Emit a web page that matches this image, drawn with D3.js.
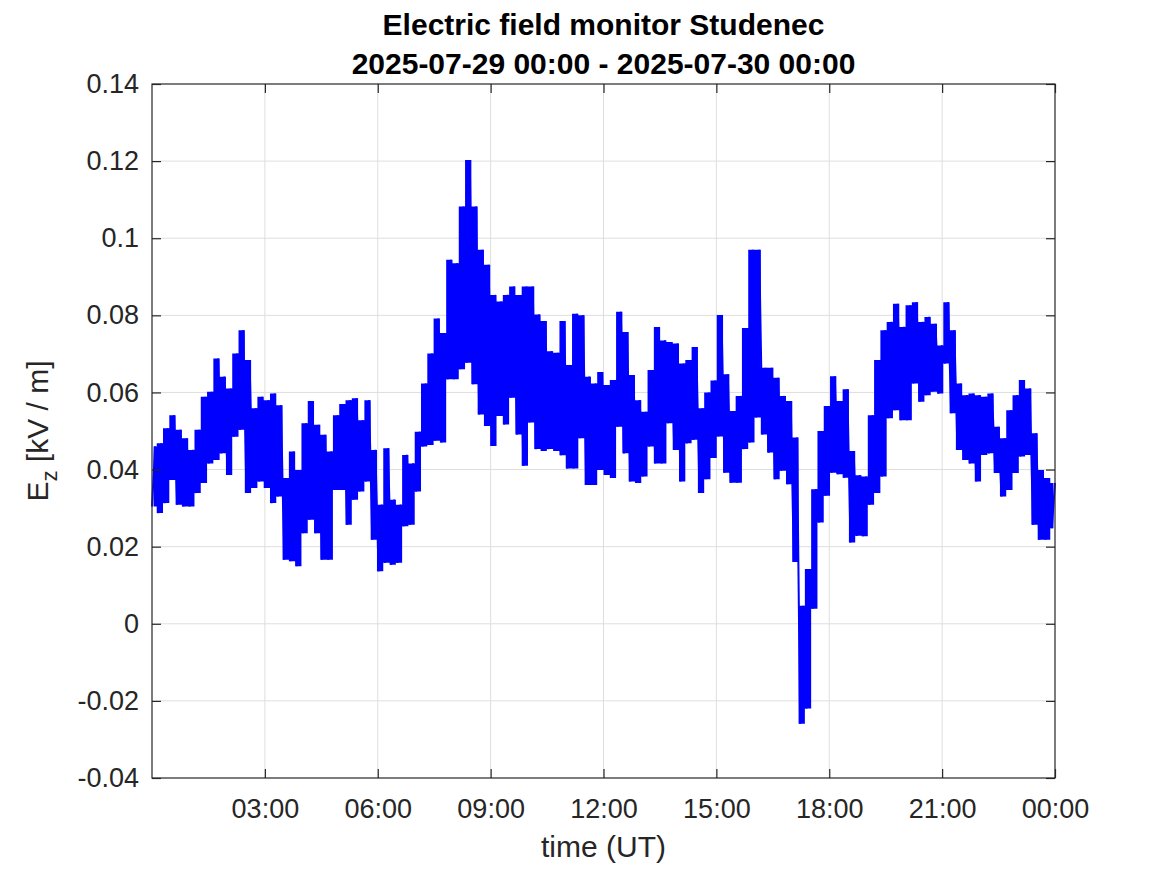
<!DOCTYPE html>
<html>
<head>
<meta charset="utf-8">
<script src="https://cdn.jsdelivr.net/npm/d3@7"></script>
<style>
  body { margin: 0; background: #fff; }
  svg { display: block; font-family: "Liberation Sans", Arial, Helvetica, sans-serif; }
</style>
</head>
<body>
<div id="grafico"></div>
<script>
// Titulo e rotulos
const tituloLinha1 = "Electric field monitor Studenec";
const tituloLinha2 = "2025-07-29 00:00 - 2025-07-30 00:00";
const rotuloX = "time (UT)";

// Intervalo de tempo (UT)
const inicio = new Date(Date.UTC(2025, 6, 29, 0, 0));
const fim = new Date(Date.UTC(2025, 6, 30, 0, 0));

// Eixo Y
const yTicks = [-0.04, -0.02, 0, 0.02, 0.04, 0.06, 0.08, 0.1, 0.12, 0.14];
const xTickHoras = [3, 6, 9, 12, 15, 18, 21, 24];

// Dados: envelope de Ez (kV/m) em blocos de 10 minutos (max e min)
const minutosPorBloco = 10;
const ezMax = [
  0.0460, 0.0468, 0.0507, 0.0541, 0.0503, 0.0481, 0.0451, 0.0503, 0.0589, 0.0602, 0.0688, 0.0641,
  0.0610, 0.0701, 0.0761, 0.0684, 0.0559, 0.0589, 0.0580, 0.0597, 0.0567, 0.0378, 0.0447, 0.0399,
  0.0520, 0.0578, 0.0516, 0.0490, 0.0447, 0.0541, 0.0570, 0.0580, 0.0585, 0.0528, 0.0580, 0.0451,
  0.0309, 0.0455, 0.0322, 0.0309, 0.0438, 0.0416, 0.0498, 0.0623, 0.0701, 0.0792, 0.0754, 0.0944,
  0.0935, 0.1082, 0.1203, 0.1082, 0.0970, 0.0931, 0.0853, 0.0836, 0.0853, 0.0875, 0.0853, 0.0875,
  0.0875, 0.0802, 0.0785, 0.0707, 0.0703, 0.0785, 0.0671, 0.0804, 0.0800, 0.0641, 0.0623, 0.0653,
  0.0619, 0.0632, 0.0809, 0.0757, 0.0645, 0.0580, 0.0550, 0.0658, 0.0770, 0.0735, 0.0731, 0.0727,
  0.0675, 0.0684, 0.0718, 0.0559, 0.0600, 0.0631, 0.0801, 0.0647, 0.0552, 0.0591, 0.0767, 0.0970,
  0.0970, 0.0664, 0.0664, 0.0638, 0.0591, 0.0578, 0.0483, 0.0047, 0.0142, 0.0349, 0.0500, 0.0565,
  0.0642, 0.0578, 0.0608, 0.0448, 0.0385, 0.0382, 0.0541, 0.0684, 0.0761, 0.0783, 0.0830, 0.0770,
  0.0826, 0.0834, 0.0783, 0.0796, 0.0778, 0.0722, 0.0834, 0.0761, 0.0623, 0.0593, 0.0597, 0.0593,
  0.0589, 0.0597, 0.0511, 0.0481, 0.0554, 0.0593, 0.0632, 0.0610, 0.0494, 0.0399, 0.0378, 0.0365
];
const ezMin = [
  0.0304, 0.0287, 0.0313, 0.0373, 0.0309, 0.0304, 0.0304, 0.0339, 0.0365, 0.0416, 0.0425, 0.0442,
  0.0386, 0.0485, 0.0503, 0.0339, 0.0352, 0.0369, 0.0352, 0.0313, 0.0330, 0.0166, 0.0162, 0.0149,
  0.0235, 0.0270, 0.0235, 0.0166, 0.0166, 0.0347, 0.0347, 0.0257, 0.0322, 0.0343, 0.0369, 0.0218,
  0.0136, 0.0158, 0.0153, 0.0158, 0.0253, 0.0257, 0.0343, 0.0460, 0.0464, 0.0475, 0.0470, 0.0634,
  0.0634, 0.0660, 0.0677, 0.0621, 0.0543, 0.0513, 0.0461, 0.0539, 0.0517, 0.0586, 0.0491, 0.0410,
  0.0522, 0.0453, 0.0448, 0.0453, 0.0448, 0.0437, 0.0403, 0.0403, 0.0481, 0.0360, 0.0360, 0.0399,
  0.0386, 0.0378, 0.0511, 0.0442, 0.0369, 0.0365, 0.0382, 0.0460, 0.0416, 0.0416, 0.0520, 0.0451,
  0.0369, 0.0468, 0.0477, 0.0339, 0.0375, 0.0430, 0.0486, 0.0392, 0.0366, 0.0366, 0.0453, 0.0470,
  0.0535, 0.0491, 0.0444, 0.0375, 0.0397, 0.0362, 0.0160, -0.0259, -0.0220, 0.0039, 0.0263, 0.0332,
  0.0392, 0.0388, 0.0379, 0.0211, 0.0228, 0.0227, 0.0309, 0.0339, 0.0382, 0.0533, 0.0554, 0.0528,
  0.0528, 0.0623, 0.0576, 0.0593, 0.0602, 0.0597, 0.0675, 0.0546, 0.0451, 0.0425, 0.0416, 0.0369,
  0.0438, 0.0442, 0.0391, 0.0330, 0.0347, 0.0391, 0.0434, 0.0438, 0.0257, 0.0218, 0.0218, 0.0248
];

// Dimensoes do grafico
const largura = 1167, altura = 875;
const margin = { top: 84, right: 112, bottom: 97, left: 152 };
const innerW = largura - margin.left - margin.right;
const innerH = altura - margin.top - margin.bottom;
const corTexto = "#262626";
const azul = "#0000ff";

const svg = d3.select("#grafico").append("svg")
  .attr("width", largura)
  .attr("height", altura);

svg.append("rect").attr("width", largura).attr("height", altura).attr("fill", "#fff");

const g = svg.append("g").attr("transform", `translate(${margin.left},${margin.top})`);

// Escalas
const x = d3.scaleUtc().domain([inicio, fim]).range([0, innerW]);
const y = d3.scaleLinear().domain([-0.04, 0.14]).range([innerH, 0]);

const xTicks = xTickHoras.map(h => new Date(inicio.getTime() + h * 3600e3));

// Grade
g.append("g").selectAll("line")
  .data(xTicks.filter(d => d < fim))
  .join("line")
  .attr("x1", d => x(d)).attr("x2", d => x(d))
  .attr("y1", 0).attr("y2", innerH)
  .attr("stroke", "#dedede").attr("stroke-width", 1);

g.append("g").selectAll("line")
  .data(yTicks.slice(1, -1))
  .join("line")
  .attr("x1", 0).attr("x2", innerW)
  .attr("y1", d => y(d)).attr("y2", d => y(d))
  .attr("stroke", "#dedede").attr("stroke-width", 1);

// Serie: zigue-zague entre minimo e maximo de cada bloco
const nPontos = ezMax.length * 2;
const passoMs = (fim - inicio) / (nPontos - 1);
const serie = [];
const blocos = [];
ezMax.forEach((vMax, i) => {
  serie.push({ t: new Date(inicio.getTime() + (2 * i) * passoMs), v: ezMin[i] });
  serie.push({ t: new Date(inicio.getTime() + (2 * i + 1) * passoMs), v: vMax });
  blocos.push({ t: new Date(inicio.getTime() + (2 * i + 0.5) * passoMs), lo: ezMin[i], hi: vMax });
});

// Faixa preenchida em degraus (o sinal e muito denso)
g.append("path")
  .datum(blocos)
  .attr("fill", azul)
  .attr("d", d3.area()
    .curve(d3.curveStep)
    .x(d => x(d.t))
    .y0(d => y(d.lo))
    .y1(d => y(d.hi)));

g.append("path")
  .datum(serie)
  .attr("fill", "none")
  .attr("stroke", azul)
  .attr("stroke-width", 2)
  .attr("d", d3.line()
    .x(d => x(d.t))
    .y(d => y(d.v)));

// Formato dos rotulos
const fmtY = d => String(+d.toFixed(2));
const fmtX = d => (d.getTime() === inicio.getTime() ? "" : d3.utcFormat("%H:%M")(d));

function estilizarEixo(sel, tamanho) {
  sel.select(".domain").remove();
  sel.selectAll(".tick line").attr("stroke", corTexto).attr("stroke-width", 1.2);
  sel.selectAll(".tick text")
    .attr("fill", corTexto)
    .style("font-family", "'Liberation Sans', Arial, Helvetica, sans-serif")
    .style("font-size", tamanho + "px");
}

// Eixo X inferior
g.append("g")
  .attr("transform", `translate(0,${innerH})`)
  .call(d3.axisBottom(x).tickValues(xTicks).tickFormat(fmtX).tickSize(-9).tickSizeOuter(0).tickPadding(21))
  .call(sel => estilizarEixo(sel, 27));

// Eixo X superior
g.append("g")
  .call(d3.axisTop(x).tickValues(xTicks).tickFormat("").tickSize(-9).tickSizeOuter(0))
  .call(sel => estilizarEixo(sel, 27));

// Eixo Y esquerdo
g.append("g")
  .call(d3.axisLeft(y).tickValues(yTicks).tickFormat(fmtY).tickSize(-9).tickSizeOuter(0).tickPadding(13))
  .call(sel => estilizarEixo(sel, 27));

// Eixo Y direito
g.append("g")
  .attr("transform", `translate(${innerW},0)`)
  .call(d3.axisRight(y).tickValues(yTicks).tickFormat("").tickSize(-9).tickSizeOuter(0))
  .call(sel => estilizarEixo(sel, 27));

// Moldura
g.append("rect")
  .attr("width", innerW).attr("height", innerH)
  .attr("fill", "none")
  .attr("stroke", corTexto)
  .attr("stroke-width", 1.2);

// Titulo
const titulo = svg.append("text")
  .attr("text-anchor", "middle")
  .attr("font-weight", "bold")
  .attr("font-size", 30)
  .attr("fill", "#000");
titulo.append("tspan").attr("x", margin.left + innerW / 2).attr("y", 35).text(tituloLinha1);
titulo.append("tspan").attr("x", margin.left + innerW / 2).attr("y", 74).text(tituloLinha2);

// Rotulo do eixo X
svg.append("text")
  .attr("x", margin.left + innerW / 2)
  .attr("y", 857)
  .attr("text-anchor", "middle")
  .attr("font-size", 30)
  .attr("fill", corTexto)
  .text(rotuloX);

// Rotulo do eixo Y (E com indice z)
const rotuloY = svg.append("text")
  .attr("transform", `translate(48,${margin.top + innerH / 2}) rotate(-90)`)
  .attr("text-anchor", "middle")
  .attr("font-size", 30)
  .attr("fill", corTexto);
rotuloY.append("tspan").text("E");
rotuloY.append("tspan").attr("font-size", 22).attr("dy", 9).text("z");
rotuloY.append("tspan").attr("dy", -9).text(" [kV / m]");
</script>
</body>
</html>
